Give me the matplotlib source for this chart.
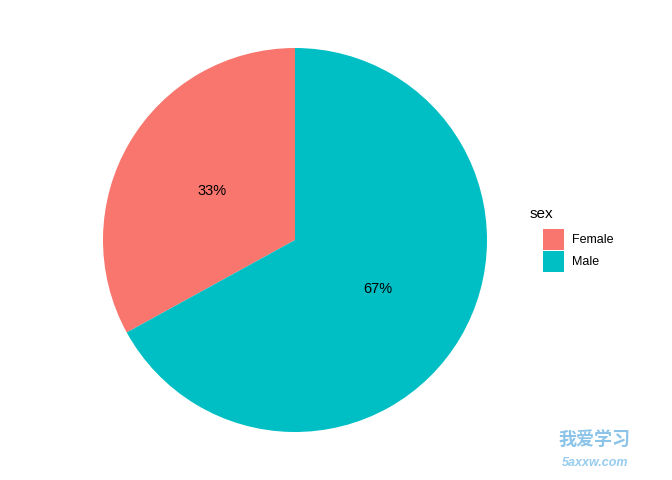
import matplotlib.pyplot as plt
from matplotlib.patches import Patch

plt.rcParams['font.family'] = ['Liberation Sans', 'DejaVu Sans']

# data
sex = ['Female', 'Male']
share = [33, 67]
colors = ['#F8766D', '#00BFC4']

fig = plt.figure(figsize=(6.72, 4.8), dpi=100)
ax = fig.add_axes([103 / 672, 48 / 480, 384 / 672, 384 / 480])

wedges, texts = ax.pie(share, colors=colors, startangle=90, counterclock=True,
                       labels=[f'{v}%' for v in share], labeldistance=0.5,
                       textprops={'fontsize': 10.5, 'ha': 'center', 'va': 'center'},
                       wedgeprops={'linewidth': 0})
ax.set_xlim(-1, 1)
ax.set_ylim(-1, 1)
ax.set_aspect('equal')
ax.axis('off')

# legend (title drawn separately, ggplot style)
handles = [Patch(facecolor=c, edgecolor='none') for c in colors]
leg = fig.legend(handles, sex, loc='upper left',
                 bbox_to_anchor=(543 / 672, 1 - 229 / 480), frameon=False,
                 fontsize=9, handlelength=1.68, handleheight=2.2,
                 handletextpad=0.65, labelspacing=0.08, borderaxespad=0, borderpad=0)
fig.text(530 / 672, 1 - 214 / 480, 'sex', fontsize=11, ha='left', va='center')

# watermark
fig.text(558 / 672, 1 - 440 / 480, '我爱学习', fontsize=13, color='#6fb5e3', fontweight='bold',
         family=['Noto Sans CJK SC', 'DejaVu Sans'], ha='left', va='center', alpha=0.8)
fig.text(562 / 672, 1 - 463 / 480, '5axxw.com', fontsize=9, color='#7cc0ea', fontweight='bold',
         fontstyle='italic', ha='left', va='center', alpha=0.8)

fig.savefig('out.png', dpi=100, facecolor='white')
